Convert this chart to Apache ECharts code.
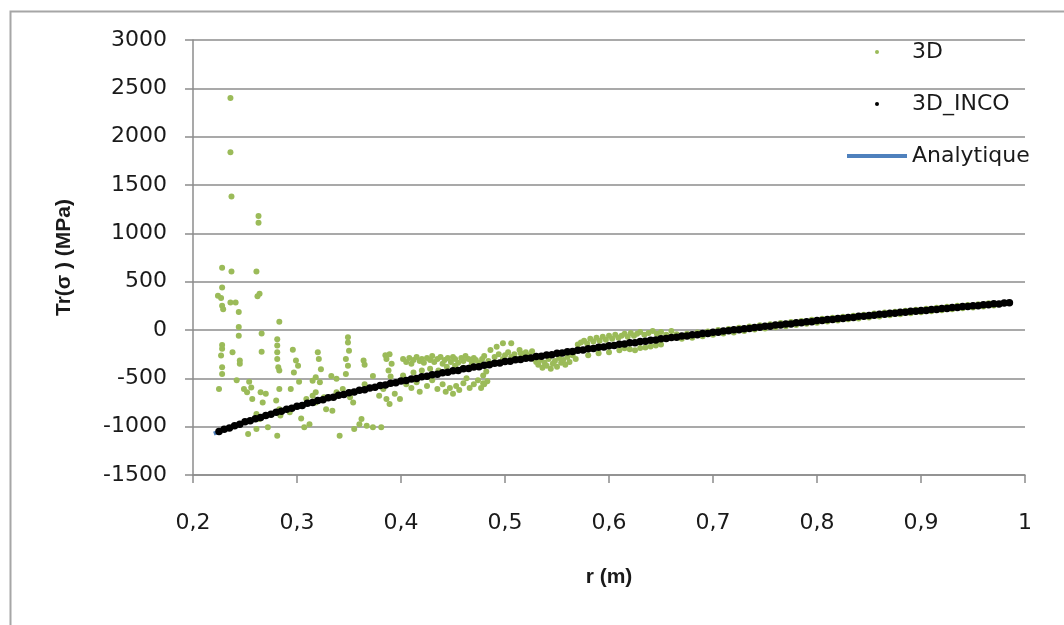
<!DOCTYPE html>
<html><head><meta charset="utf-8">
<script src="https://cdn.jsdelivr.net/npm/echarts@6/dist/echarts.min.js"></script>
<style>html,body{margin:0;padding:0;background:#fff}#c{width:1064px;height:625px}</style>
</head><body><div id="c"></div>
<script>
const seriesNames = ['3D', '3D_INCO', 'Analytique'];
const xAxisTitle = 'r (m)';
const yAxisTitle = 'Tr(σ ) (MPa)';

// 3D (green) scattered points [r, Tr]
const d3 = [
[0.236,2400],[0.236,1840],[0.237,1380],[0.263,1180],[0.263,1110],[0.228,645],[0.237,605],[0.261,605],
[0.228,440],[0.224,355],[0.227,330],[0.228,250],[0.229,215],[0.236,285],[0.241,285],[0.264,375],[0.262,350],
[0.244,185],[0.244,30],[0.244,-60],[0.266,-35],[0.283,85],[0.228,-155],[0.228,-195],[0.227,-265],[0.238,-230],
[0.245,-315],[0.245,-350],[0.228,-385],[0.228,-455],[0.266,-225],[0.281,-95],[0.281,-160],[0.281,-230],
[0.281,-300],[0.282,-385],[0.283,-420],[0.296,-205],[0.299,-315],[0.301,-370],[0.297,-440],[0.302,-535],
[0.320,-230],[0.321,-300],[0.323,-405],[0.318,-490],[0.322,-540],[0.349,-75],[0.349,-130],[0.350,-215],
[0.347,-300],[0.349,-370],[0.347,-455],[0.364,-315],[0.365,-360],[0.389,-250],[0.391,-350],[0.225,-610],
[0.242,-520],[0.254,-535],[0.256,-595],[0.257,-715],[0.265,-645],[0.267,-750],[0.283,-610],[0.280,-730],
[0.283,-820],[0.294,-610],[0.284,-885],[0.281,-1095],[0.253,-1075],[0.261,-1025],[0.272,-1005],[0.264,-920],
[0.261,-870],[0.307,-1005],[0.312,-975],[0.304,-915],[0.293,-850],[0.309,-715],[0.315,-680],[0.318,-645],
[0.328,-820],[0.334,-835],[0.326,-695],[0.341,-1095],[0.354,-750],[0.351,-695],[0.355,-1025],[0.362,-920],
[0.367,-990],[0.373,-1005],[0.381,-1005],[0.360,-975],[0.365,-560],[0.373,-475],[0.383,-610],[0.386,-715],
[0.389,-765],[0.394,-660],[0.399,-715],[0.379,-680],[0.338,-645],[0.344,-610],[0.338,-505],[0.333,-475],
[0.315,-525],[0.318,-750],[0.304,-785],[0.270,-660],[0.249,-610],[0.252,-645],
[0.402,-300],[0.405,-330],[0.408,-290],[0.410,-350],[0.412,-310],[0.415,-280],[0.418,-320],[0.420,-300],
[0.422,-340],[0.425,-290],[0.428,-310],[0.430,-270],[0.432,-330],[0.435,-300],[0.438,-280],[0.440,-350],
[0.442,-310],[0.445,-290],[0.448,-330],[0.450,-280],[0.452,-300],[0.455,-340],[0.458,-290],[0.460,-320],
[0.462,-270],[0.465,-300],[0.468,-330],[0.470,-290],[0.472,-310],[0.475,-350],[0.478,-300],[0.480,-270],
[0.405,-560],[0.410,-600],[0.415,-540],[0.418,-640],[0.425,-580],[0.430,-520],[0.435,-610],[0.440,-560],
[0.443,-640],[0.447,-600],[0.450,-660],[0.453,-580],[0.456,-620],[0.460,-550],[0.463,-500],[0.466,-600],
[0.470,-560],[0.474,-520],[0.477,-600],[0.480,-560],[0.483,-530],[0.479,-470],[0.482,-430],
[0.402,-470],[0.412,-440],[0.420,-420],[0.428,-400],[0.436,-420],[0.444,-380],[0.452,-370],[0.460,-390],
[0.468,-360],[0.476,-340],[0.484,-320],[0.385,-260],[0.386,-300],[0.388,-420],[0.390,-480],[0.388,-560],
[0.486,-207],[0.498,-137],[0.506,-137],[0.514,-207],[0.492,-173],[0.479,-552],
[0.490,-280],[0.494,-250],[0.498,-300],[0.500,-260],[0.503,-230],[0.506,-280],[0.509,-250],[0.512,-300],
[0.515,-240],[0.518,-270],[0.520,-230],[0.523,-260],[0.526,-220],[0.528,-300],[0.530,-330],[0.532,-360],
[0.534,-310],[0.536,-390],[0.538,-340],[0.540,-370],[0.542,-300],[0.544,-400],[0.546,-350],[0.548,-320],
[0.550,-380],[0.552,-290],[0.554,-340],[0.556,-310],[0.558,-360],[0.560,-280],[0.562,-330],[0.565,-260],
[0.568,-300],[0.570,-150],[0.573,-130],[0.576,-110],[0.579,-140],[0.582,-90],[0.585,-120],[0.588,-80],
[0.591,-110],[0.594,-70],[0.597,-100],[0.600,-60],[0.603,-90],[0.606,-50],[0.609,-80],[0.612,-60],
[0.615,-40],[0.618,-70],[0.621,-30],[0.624,-60],[0.627,-40],[0.630,-20],[0.634,-50],[0.638,-30],
[0.642,-10],[0.646,-40],[0.650,-20],[0.655,-50],[0.660,-10],
[0.580,-260],[0.590,-240],[0.600,-230],[0.610,-210],[0.620,-200],[0.630,-185],[0.640,-170],[0.650,-150],
[0.615,-190],[0.635,-180],[0.645,-160],[0.625,-210],
[0.665,-45],[0.670,-90],[0.675,-40],[0.680,-80],[0.685,-25],[0.690,-65],[0.695,-15],[0.700,-50],
[0.705,0],[0.710,-35],[0.715,10],[0.720,-25],[0.725,22],[0.730,-10],[0.735,35],[0.740,5],
[0.745,48],[0.750,15],[0.755,60],[0.760,28],[0.765,72],[0.770,40],[0.775,82],[0.780,52],
[0.785,94],[0.790,64],[0.795,105],[0.800,75],[0.805,116],[0.810,88],[0.815,126],[0.820,98],
[0.825,138],[0.830,110],[0.835,148],[0.840,120],[0.845,158],[0.850,130],[0.855,170],[0.860,140],
[0.865,180],[0.870,152],[0.875,190],[0.880,162],[0.885,200],[0.890,172],[0.895,210],[0.900,184],
[0.905,220],[0.910,194],[0.915,230],[0.920,204],[0.925,240],[0.930,214],[0.935,250],[0.940,224],
[0.945,258],[0.950,234],[0.955,266],[0.960,244],[0.965,276],[0.970,254]
];

// 3D_INCO (black) points: radii and values
const rInco = [
0.225,0.230,0.235,0.240,0.245,0.250,0.255,0.260,0.265,0.270,0.275,0.280,0.285,0.290,0.295,0.300,
0.305,0.310,0.315,0.320,0.325,0.330,0.335,0.340,0.345,0.350,0.355,0.360,0.365,0.370,0.375,0.380,
0.385,0.390,0.395,0.400,0.405,0.410,0.415,0.420,0.425,0.430,0.435,0.440,0.445,0.450,0.455,0.460,
0.465,0.470,0.475,0.480,0.485,0.490,0.495,0.500,0.505,0.510,0.515,0.520,0.525,0.530,0.535,0.540,
0.545,0.550,0.555,0.560,0.565,0.570,0.575,0.580,0.585,0.590,0.595,0.600,0.605,0.610,0.615,0.620,
0.625,0.630,0.635,0.640,0.645,0.650,0.655,0.660,0.665,0.670,0.675,0.680,0.685,0.690,0.695,0.700,
0.705,0.710,0.715,0.720,0.725,0.730,0.735,0.740,0.745,0.750,0.755,0.760,0.765,0.770,0.775,0.780,
0.785,0.790,0.795,0.800,0.805,0.810,0.815,0.820,0.825,0.830,0.835,0.840,0.845,0.850,0.855,0.860,
0.865,0.870,0.875,0.880,0.885,0.890,0.895,0.900,0.905,0.910,0.915,0.920,0.925,0.930,0.935,0.940,
0.945,0.950,0.955,0.960,0.965,0.970,0.975,0.980,0.985
];
const vInco = [
-1050,-1028,-1015,-990,-976,-950,-940,-918,-906,-884,-872,-850,-840,-819,-810,-788,
-780,-758,-750,-730,-722,-702,-695,-675,-668,-649,-642,-624,-617,-599,-593,-575,
-569,-551,-546,-528,-523,-506,-501,-484,-479,-463,-458,-443,-438,-422,-418,-402,
-398,-383,-379,-364,-360,-345,-342,-327,-324,-309,-306,-292,-289,-275,-272,-258,
-255,-241,-239,-225,-223,-209,-207,-193,-191,-178,-176,-163,-161,-148,-146,-133,
-131,-119,-117,-105,-103,-91,-89,-77,-75,-63,-62,-50,-48,-37,-35,-24,
-22,-11,-9,2,3,14,15,26,28,39,40,51,51,62,63,74,
75,85,86,97,97,108,108,119,119,130,130,141,141,151,152,162,
162,172,173,183,183,193,193,203,203,213,213,223,223,233,232,242,
242,252,251,261,261,271,270,280,282
];

// Analytique (blue line)
const rAna = [0.22,0.23,0.24,0.25,0.26,0.27,0.28,0.29,0.30,0.32,0.34,0.36,0.38,0.40,0.42,0.44,0.46,0.48,
0.50,0.52,0.54,0.56,0.58,0.60,0.62,0.64,0.66,0.68,0.70,0.72,0.74,0.76,0.78,0.80,0.82,0.84,0.86,0.88,
0.90,0.92,0.94,0.96,0.98,0.985];
const vAna = [-1071,-1031,-992,-955,-920,-886,-853,-822,-791,-733,-678,-627,-578,-531,-487,-446,-405,-367,
-330,-295,-261,-228,-196,-166,-136,-108,-80,-53,-27,-1,23,48,71,94,116,138,159,180,
200,220,239,258,277,282];

const yTicks = { min: -1500, max: 3000, interval: 500 };
const xTicks = { min: 0.2, max: 1, interval: 0.1 };

const inco = rInco.map((r, i) => [r, vInco[i]]);
const ana = rAna.map((r, i) => [r, vAna[i]]);

const labelFont = { fontFamily: 'DejaVu Sans', fontSize: 22, color: '#1a1a1a' };
const gridGray = '#8c8c8c';

const chart = echarts.init(document.getElementById('c'), null, { renderer: 'canvas' });
chart.setOption({
  animation: false,
  backgroundColor: '#fff',
  graphic: [{
    type: 'rect', left: 8, top: 9, silent: true, z: 0,
    shape: { width: 1080, height: 650 },
    style: { fill: 'none', stroke: '#a6a6a6', lineWidth: 2 }
  }],
  grid: { left: 193, right: 39, top: 40, bottom: 150, containLabel: false },
  legend: {
    orient: 'vertical', left: 840, top: 36, itemWidth: 60, itemHeight: 4, itemGap: 30,
    textStyle: labelFont,
    data: [
      { name: seriesNames[0], icon: 'circle' },
      { name: seriesNames[1], icon: 'circle' },
      { name: seriesNames[2], lineStyle: { width: 4 } }
    ]
  },
  xAxis: {
    type: 'value', min: xTicks.min, max: xTicks.max, interval: xTicks.interval,
    name: xAxisTitle, nameLocation: 'middle', nameGap: 92,
    nameTextStyle: { fontFamily: 'Liberation Sans', fontWeight: 'bold', fontSize: 21, color: '#1a1a1a' },
    axisLine: { onZero: false, lineStyle: { color: gridGray, width: 1.5 } },
    axisTick: { show: true, length: 8, lineStyle: { color: gridGray, width: 1.5 } },
    splitLine: { show: false },
    axisLabel: Object.assign({ margin: 37, formatter: v => (Math.round(v * 10) / 10).toString().replace('.', ',') }, labelFont)
  },
  yAxis: {
    type: 'value', min: yTicks.min, max: yTicks.max, interval: yTicks.interval,
    name: yAxisTitle, nameLocation: 'middle', nameGap: 118,
    nameTextStyle: { fontFamily: 'Liberation Sans', fontWeight: 'bold', fontSize: 21, color: '#1a1a1a' },
    axisLine: { show: true, lineStyle: { color: gridGray, width: 1.5 } },
    axisTick: { show: true, length: 8, lineStyle: { color: gridGray, width: 1.5 } },
    splitLine: { show: true, lineStyle: { color: gridGray, width: 1.5 } },
    axisLabel: Object.assign({ margin: 26, formatter: v => String(Math.round(v)) }, labelFont)
  },
  series: [
    {
      name: seriesNames[0], type: 'scatter', data: d3, symbol: 'circle', symbolSize: 6, z: 2,
      itemStyle: { color: '#9bbb59', opacity: 1 }
    },
    {
      name: seriesNames[2], type: 'line', data: ana, showSymbol: false, symbol: 'none', z: 3,
      lineStyle: { color: '#4f81bd', width: 4 }, itemStyle: { color: '#4f81bd' }
    },
    {
      name: seriesNames[1], type: 'scatter', data: inco, symbol: 'circle', symbolSize: 7.5, z: 4,
      itemStyle: { color: '#000', opacity: 1 }
    }
  ]
});
</script></body></html>
